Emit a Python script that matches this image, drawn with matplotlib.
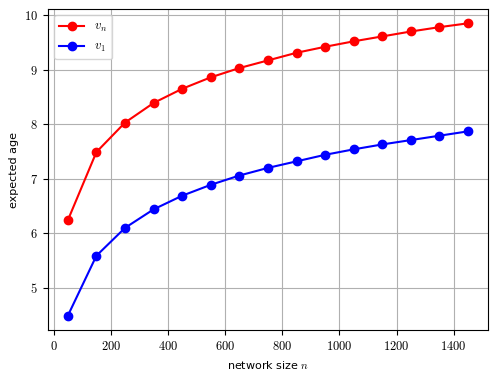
import matplotlib
matplotlib.use('Agg')
import matplotlib.pyplot as plt

plt.rcParams['mathtext.fontset'] = 'cm'
plt.rcParams['axes.formatter.use_mathtext'] = True

sizes = [50, 150, 250, 350, 450, 550, 650, 750, 850, 950, 1050, 1150, 1250, 1350, 1450]
age_vn = [6.24, 7.49, 8.03, 8.39, 8.65, 8.86, 9.03, 9.17, 9.31, 9.42, 9.52, 9.61, 9.70, 9.78, 9.85]
age_v1 = [4.49, 5.59, 6.10, 6.44, 6.69, 6.89, 7.06, 7.20, 7.32, 7.44, 7.54, 7.63, 7.71, 7.79, 7.87]


def tick_fmt(v, pos):
    return r'$%d$' % round(v)


fig = plt.figure(figsize=(4.98, 3.78), dpi=100)
ax = fig.add_axes([0.096, 0.126, 0.884, 0.851])

ax.plot(sizes, age_vn, 'o-', color='red', markersize=6, linewidth=1.5, label=r'$v_n$')
ax.plot(sizes, age_v1, 'o-', color='blue', markersize=6, linewidth=1.5, label=r'$v_1$')

ax.xaxis.set_major_formatter(matplotlib.ticker.FuncFormatter(tick_fmt))
ax.yaxis.set_major_formatter(matplotlib.ticker.FuncFormatter(tick_fmt))
ax.tick_params(labelsize=9)
ax.grid(True)
ax.set_xlabel(r'network size $n$', fontsize=8)
ax.set_ylabel('expected age', fontsize=8)
ax.legend(loc='upper left', fontsize=9)

fig.savefig('out.png', dpi=100)
